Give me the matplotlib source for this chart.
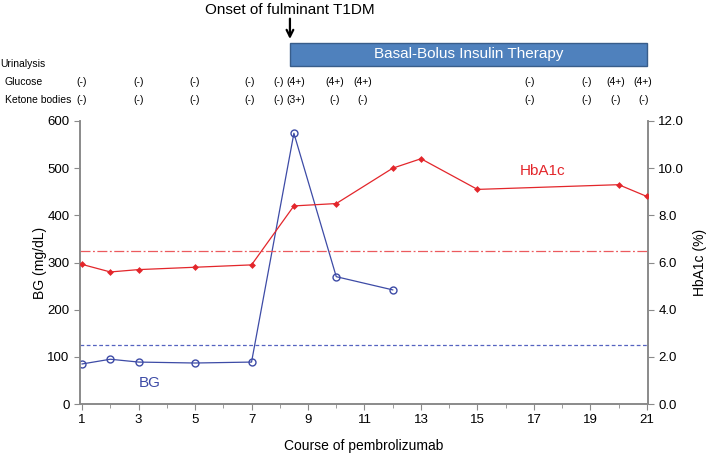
import matplotlib

matplotlib.use("Agg")

import matplotlib.pyplot as plt
from matplotlib.patches import Rectangle
from matplotlib.transforms import blended_transform_factory

plt.rcParams["font.family"] = ["Liberation Sans", "DejaVu Sans"]

# Blood glucose (mg/dL) by course
bg_course = [1, 2, 3, 5, 7, 8.5, 10, 12]
bg_values = [85, 95, 89, 87, 89, 574, 270, 242]

# HbA1c (%) by course
hba1c_course = [1, 2, 3, 5, 7, 8.5, 10, 12, 13, 15, 20, 21]
hba1c_values = [5.92, 5.6, 5.7, 5.8, 5.9, 8.4, 8.5, 10.0, 10.4, 9.1, 9.3, 8.8]

bg_reference = 126
hba1c_reference = 6.5

# Urinalysis
urine_course = [1, 3, 5, 6.95, 7.97, 8.55, 9.95, 10.95, 16.85, 18.85, 19.9, 20.87]
urine_glucose = ["(-)", "(-)", "(-)", "(-)", "(-)", "(4+)", "(4+)", "(4+)",
                 "(-)", "(-)", "(4+)", "(4+)"]
urine_ketone = ["(-)", "(-)", "(-)", "(-)", "(-)", "(3+)", "(-)", "(-)",
                "(-)", "(-)", "(-)", "(-)"]

therapy_start = 8.36
therapy_end = 21.0

BLUE = "#3D4BA6"
RED = "#E3262B"
SPINE = "#8A8A8A"

fig = plt.figure(figsize=(7.09, 4.54), dpi=100)
ax = fig.add_axes([0.113, 0.110, 0.801, 0.6235])
ax2 = ax.twinx()

ax.axhline(bg_reference, color="#5563C0", linestyle=(0, (3, 2)), linewidth=0.9)
ax2.axhline(hba1c_reference, color="#EC5A5E", linestyle=(0, (8, 2, 1.5, 2)),
            linewidth=0.9)

ax.plot(bg_course, bg_values, color=BLUE, linewidth=0.9, marker="o",
        markersize=5, markerfacecolor="none", markeredgewidth=1.0, zorder=3)
ax2.plot(hba1c_course, hba1c_values, color=RED, linewidth=0.9, marker="D",
         markersize=3.5, markerfacecolor=RED, markeredgewidth=0, zorder=3)

ax.text(3.4, 45, "BG", color=BLUE, fontsize=11, ha="center", va="center")
ax2.text(17.3, 9.9, "HbA1c", color=RED, fontsize=11, ha="center", va="center")

ax.set_xlim(0.93, 21.04)
ax.set_ylim(0, 600)
ax2.set_ylim(0, 12)
ax.set_xticks(range(1, 22, 2))
ax.set_xticks(range(1, 22), minor=True)
ax.set_yticks(range(0, 601, 100))
ax2.set_yticks(range(0, 13, 2))
ax2.set_yticklabels([f"{v:.1f}" for v in range(0, 13, 2)])

for a in (ax, ax2):
    a.spines["top"].set_visible(False)
    for side in ("left", "right", "bottom"):
        a.spines[side].set_color(SPINE)
        a.spines[side].set_linewidth(1.2)
    a.tick_params(axis="both", which="both", color=SPINE, labelsize=9.5,
                  direction="out")
    a.tick_params(which="major", length=4)
    a.tick_params(which="minor", length=3)

ax.set_xlabel("Course of pembrolizumab", fontsize=10, labelpad=9)
ax.set_ylabel("BG (mg/dL)", fontsize=10, labelpad=0)
ax2.set_ylabel("HbA1c (%)", fontsize=10, labelpad=6)

# Urinalysis rows above the axes
trans = blended_transform_factory(ax.transData, fig.transFigure)
fig.text(0.0, 0.859, "Urinalysis", fontsize=7.5, va="center", ha="left")
fig.text(0.007, 0.819, "Glucose", fontsize=7.5, va="center", ha="left")
fig.text(0.007, 0.780, "Ketone bodies", fontsize=7.5, va="center", ha="left")
for x, g, k in zip(urine_course, urine_glucose, urine_ketone):
    ax.text(x, 0.819, g, transform=trans, fontsize=7.5, ha="center",
            va="center", clip_on=False)
    ax.text(x, 0.780, k, transform=trans, fontsize=7.5, ha="center",
            va="center", clip_on=False)

# Basal-bolus insulin therapy bar
box = Rectangle((therapy_start, 0.855), therapy_end - therapy_start, 0.050,
                transform=trans, facecolor="#4F81BD", edgecolor="#385D8A",
                linewidth=1.0, clip_on=False)
ax.add_patch(box)
ax.text((therapy_start + therapy_end) / 2, 0.880, "Basal-Bolus Insulin Therapy",
        transform=trans, color="white", fontsize=11, ha="center", va="center")

# Onset arrow
ax.annotate("", xy=(therapy_start, 0.908), xytext=(therapy_start, 0.965),
            xycoords=trans, textcoords=trans,
            arrowprops=dict(arrowstyle="->", color="black", lw=1.6,
                            mutation_scale=12))
ax.text(therapy_start, 0.978, "Onset of fulminant T1DM", transform=trans,
        fontsize=11, ha="center", va="center")

fig.savefig("out.png", dpi=100)
